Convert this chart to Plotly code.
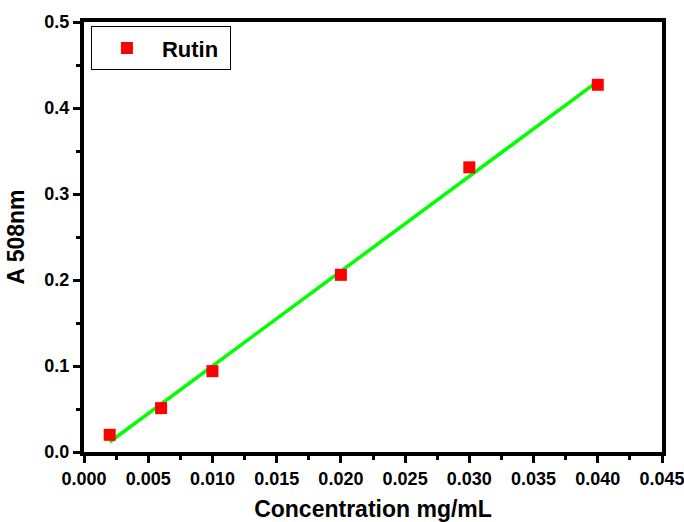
import numpy as np
import plotly.graph_objects as go

conc = [0.002, 0.006, 0.010, 0.020, 0.030, 0.040]
absorb = [0.020, 0.051, 0.094, 0.206, 0.331, 0.427]

slope, intercept = np.polyfit(conc, absorb, 1)
fit_x = [conc[0], conc[-1]]
fit_y = [slope * v + intercept for v in fit_x]

font_family = "Liberation Sans, Arial, sans-serif"

fig = go.Figure()
fig.add_trace(go.Scatter(x=fit_x, y=fit_y, mode="lines",
                         line=dict(color="#00ff00", width=3.5),
                         showlegend=False))
fig.add_trace(go.Scatter(x=conc, y=absorb, mode="markers", name="<b>Rutin</b> ",
                         marker=dict(symbol="square", size=12, color="#ff0000",
                                     line=dict(width=0))))

axis_common = dict(showline=True, linecolor="black", linewidth=4, mirror=True,
                   ticks="outside", ticklen=7, tickwidth=3, tickcolor="black",
                   showgrid=False, zeroline=False, automargin=False,
                   ticklabeloverflow="allow",
                   tickprefix="<b>", ticksuffix="</b>",
                   tickfont=dict(family=font_family, size=18, color="black"))

fig.update_layout(
    width=684, height=522,
    margin=dict(l=84, r=22, t=22, b=70),
    paper_bgcolor="white", plot_bgcolor="white",
    font=dict(family=font_family, color="black"),
    xaxis=dict(range=[0, 0.045], dtick=0.005, tickformat=".3f",
               minor=dict(dtick=0.0025, ticks="outside", ticklen=4, tickwidth=3, tickcolor="black"),
               title=dict(text="<b>Concentration mg/mL</b>", font=dict(size=23), standoff=16),
               **axis_common),
    yaxis=dict(range=[0, 0.5], dtick=0.1, tickformat=".1f",
               minor=dict(dtick=0.05, ticks="outside", ticklen=4, tickwidth=3, tickcolor="black"),
               title=dict(text="<b>A 508nm</b>", font=dict(size=23), standoff=14),
               **axis_common),
    legend=dict(x=0.012, y=0.99, xanchor="left", yanchor="top",
                bordercolor="black", borderwidth=1, bgcolor="white",
                font=dict(family=font_family, size=22, color="black"),
                itemwidth=60),
)

fig.write_html("out.html")
